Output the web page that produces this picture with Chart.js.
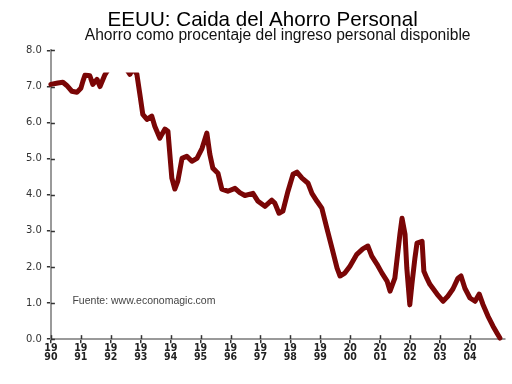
<!DOCTYPE html>
<html>
<head>
<meta charset="utf-8">
<script src="https://cdn.jsdelivr.net/npm/chart.js@4/dist/chart.umd.min.js"></script>
<style>
  html, body { margin: 0; padding: 0; background: #ffffff; }
  #wrap { width: 512px; height: 384px; }
</style>
</head>
<body>
<div id="wrap"><canvas id="c" width="512" height="384"></canvas></div>
<script>
// ---- Data ----
const titleText = "EEUU: Caida del Ahorro Personal";
const subtitleText = "Ahorro como procentaje del ingreso personal disponible";
const sourceText = "Fuente: www.economagic.com";

const years = [
  1990.00,1990.23,1990.40,1990.53,1990.70,1990.87,1991.00,1991.07,1991.14,1991.30,
  1991.40,1991.54,1991.64,1991.80,1991.97,1992.24,1992.47,1992.64,1992.74,1992.87,
  1992.97,1993.07,1993.21,1993.37,1993.47,1993.64,1993.71,1993.81,1993.91,1994.04,
  1994.14,1994.24,1994.38,1994.54,1994.71,1994.88,1995.05,1995.21,1995.31,1995.41,
  1995.58,1995.71,1995.91,1996.15,1996.31,1996.48,1996.75,1996.92,1997.15,1997.38,
  1997.48,1997.62,1997.75,1997.92,1998.09,1998.22,1998.39,1998.59,1998.72,1998.89,
  1999.05,1999.22,1999.39,1999.56,1999.66,1999.82,1999.99,2000.22,2000.42,2000.59,
  2000.72,2000.89,2001.06,2001.23,2001.33,2001.49,2001.66,2001.73,2001.83,2001.89,
  2001.99,2002.06,2002.16,2002.23,2002.40,2002.46,2002.56,2002.66,2002.90,2003.10,
  2003.26,2003.43,2003.60,2003.70,2003.83,2004.00,2004.17,2004.31,2004.43,2004.60,
  2004.77,2004.90,2005.00
];

const savingRate = [
  7.06,7.10,7.12,7.03,6.87,6.84,6.95,7.15,7.32,7.30,
  7.06,7.20,7.00,7.32,7.55,7.70,7.55,7.34,7.50,7.35,
  6.80,6.23,6.09,6.18,5.90,5.57,5.68,5.82,5.76,4.46,
  4.16,4.38,5.01,5.07,4.93,5.01,5.29,5.71,5.12,4.74,
  4.60,4.16,4.10,4.18,4.06,3.98,4.04,3.82,3.68,3.85,
  3.77,3.49,3.55,4.10,4.57,4.63,4.46,4.32,4.04,3.82,
  3.63,3.07,2.52,1.97,1.75,1.83,2.02,2.35,2.50,2.58,
  2.30,2.08,1.83,1.61,1.33,1.69,2.91,3.35,2.91,1.97,
  0.95,1.52,2.24,2.66,2.71,1.88,1.69,1.52,1.25,1.05,
  1.19,1.39,1.69,1.75,1.41,1.14,1.05,1.25,0.97,0.64,
  0.36,0.17,0.03
];

const xTickYears = [1990,1991,1992,1993,1994,1995,1996,1997,1998,1999,2000,2001,2002,2003,2004];
const yTickValues = [0,1,2,3,4,5,6,7,8];

// ---- Plugins ----
const innerTicks = {
  id: 'innerTicks',
  afterDraw(chart) {
    const ctx = chart.ctx;
    const xs = chart.scales.x, ys = chart.scales.y;
    ctx.save();
    ctx.strokeStyle = '#333333';
    ctx.lineWidth = 1.5;
    ys.ticks.forEach((t, i) => {
      const py = Math.round(ys.getPixelForTick(i)) + 0.5;
      ctx.beginPath();
      ctx.moveTo(xs.left, py);
      ctx.lineTo(xs.left + 4, py);
      ctx.stroke();
    });
    xs.ticks.forEach((t, i) => {
      const px = Math.round(xs.getPixelForTick(i)) + 0.5;
      ctx.beginPath();
      ctx.moveTo(px, ys.bottom);
      ctx.lineTo(px, ys.bottom - 4);
      ctx.stroke();
    });
    ctx.restore();
  }
};

const sourceNote = {
  id: 'sourceNote',
  afterDatasetsDraw(chart) {
    const ctx = chart.ctx;
    const xs = chart.scales.x, ys = chart.scales.y;
    ctx.save();
    ctx.font = '10.5px "Liberation Sans", Arial, sans-serif';
    ctx.fillStyle = '#444444';
    ctx.textAlign = 'left';
    ctx.textBaseline = 'middle';
    ctx.fillText(sourceText, xs.getPixelForValue(1990.72), ys.getPixelForValue(1.05));
    ctx.restore();
  }
};

// ---- Chart ----
new Chart(document.getElementById('c'), {
  type: 'line',
  data: {
    datasets: [{
      data: years.map((x, i) => ({ x: x, y: savingRate[i] })),
      borderColor: '#7a0606',
      borderWidth: 5,
      borderJoinStyle: 'round',
      borderCapStyle: 'round',
      pointRadius: 0,
      tension: 0,
      fill: false,
      clip: { left: 5, top: -22, right: 5, bottom: 5 }
    }]
  },
  options: {
    responsive: false,
    animation: false,
    devicePixelRatio: 1,
    layout: { padding: { left: 21, right: 7.6, top: 0, bottom: 21 } },
    plugins: {
      legend: { display: false },
      tooltip: { enabled: false },
      title: {
        display: true,
        text: titleText,
        color: '#000000',
        font: { family: '"Liberation Sans", Arial, sans-serif', size: 20.6, weight: 'normal', lineHeight: 0.8 },
        padding: { top: 12, bottom: 0.5 }
      },
      subtitle: {
        display: true,
        fullSize: false,
        text: subtitleText,
        color: '#111111',
        font: { family: '"Liberation Sans", Arial, sans-serif', size: 15.6, weight: 'normal', lineHeight: 0.8 },
        padding: { top: 0, bottom: 9 }
      }
    },
    scales: {
      x: {
        type: 'linear',
        min: 1990,
        max: 2005.15,
        afterBuildTicks(scale) {
          scale.ticks = xTickYears.map(v => ({ value: v }));
        },
        border: { display: true, color: '#9a9a9a', width: 2 },
        grid: { display: true, drawOnChartArea: false, drawTicks: true, tickLength: 4, color: '#333333', lineWidth: 1.5 },
        ticks: {
          autoSkip: false,
          maxRotation: 0,
          padding: 1,
          color: '#222222',
          font: { family: '"Liberation Sans Narrow", "DejaVu Sans Condensed", "Liberation Sans", sans-serif', size: 10.5, weight: 'bold', lineHeight: 0.85 },
          callback(v) { const s = String(v); return [s.slice(0, 2), s.slice(2)]; }
        }
      },
      y: {
        min: 0,
        max: 8,
        afterBuildTicks(scale) {
          scale.ticks = yTickValues.map(v => ({ value: v }));
        },
        border: { display: true, color: '#9a9a9a', width: 2 },
        grid: { display: true, drawOnChartArea: false, drawTicks: true, tickLength: 4, color: '#333333', lineWidth: 1.5 },
        ticks: {
          padding: 5,
          color: '#333333',
          font: { family: '"DejaVu Sans", sans-serif', size: 10, weight: 'normal' },
          callback(v) { return Number(v).toFixed(1); }
        }
      }
    }
  },
  plugins: [innerTicks, sourceNote]
});
</script>
</body>
</html>
